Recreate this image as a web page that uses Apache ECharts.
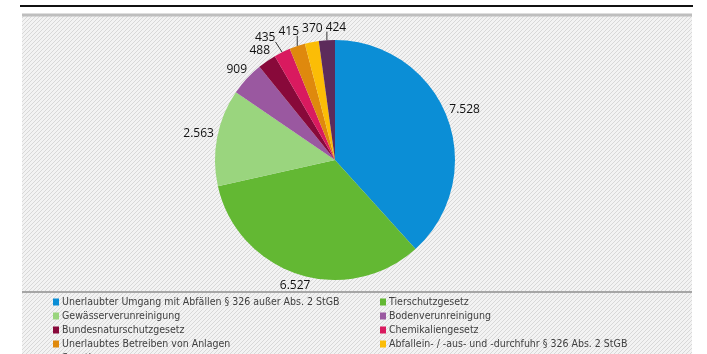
<!DOCTYPE html>
<html>
<head>
<meta charset="utf-8">
<script src="https://cdn.jsdelivr.net/npm/echarts@6/dist/echarts.min.js"></script>
<style>
  html, body { margin: 0; padding: 0; background: #fff; }
  #main { width: 707px; height: 354px; }
</style>
</head>
<body>
<div id="main"></div>
<script>
var categories = [
    'Unerlaubter Umgang mit Abfällen § 326 außer Abs. 2 StGB',
    'Tierschutzgesetz',
    'Gewässerverunreinigung',
    'Bodenverunreinigung',
    'Bundesnaturschutzgesetz',
    'Chemikaliengesetz',
    'Unerlaubtes Betreiben von Anlagen',
    'Abfallein- / -aus- und -durchfuhr § 326 Abs. 2 StGB',
    'Sonstige'
];
var values = [7528, 6527, 2563, 909, 488, 435, 415, 370, 424];
var colors = ['#0B8ED6', '#63B833', '#9AD57E', '#9A58A0', '#88093A', '#D91A5F', '#DF890D', '#FBBD06', '#5C2B5B'];
var withLeader = [5, 6, 8];

var CX = 335, CY = 160, R = 120;

// hatched background like the original
var hatch = document.createElement('canvas');
hatch.width = 4; hatch.height = 4;
var hc = hatch.getContext('2d');
hc.fillStyle = '#F3F3F3';
hc.fillRect(0, 0, 4, 4);
hc.fillStyle = '#D8D8D8';
for (var i = 0; i < 4; i++) hc.fillRect(i, 3 - i, 1, 1);

var pieData = categories.map(function(name, i) {
    var lead = withLeader.indexOf(i) >= 0;
    return {
        name: name,
        value: values[i],
        itemStyle: { color: colors[i] },
        labelLine: { lineStyle: { opacity: lead ? 1 : 0 } }
    };
});

var leftNames = categories.filter(function(c, i) { return i % 2 === 0; });
var rightNames = categories.filter(function(c, i) { return i % 2 === 1; });

var legendBase = {
    orient: 'vertical',
    top: 296,
    height: 120,
    icon: 'rect',
    itemWidth: 6,
    itemHeight: 7,
    itemGap: 2,
    padding: 0,
    textStyle: {
        fontFamily: '"Liberation Sans Narrow", "DejaVu Sans Condensed", sans-serif',
        fontSize: 10.5,
        lineHeight: 12,
        padding: [0, 0, 0, -2],
        color: '#404040'
    }
};

// first pass: radial placement, remembered so crowded labels can be spread afterwards
var placed = [];

function radialLayout(p) {
    var pts = p.labelLinePoints;
    if (!pts) return {};
    var dx = pts[0][0] - CX, dy = pts[0][1] - CY;
    var len = Math.sqrt(dx * dx + dy * dy) || 1;
    dx /= len; dy /= len;
    var w = p.labelRect.width, h = p.labelRect.height - 3;
    var gap = values[p.dataIndex] < 450 ? 8 : 3;
    var half = Math.abs(dx) * w / 2 + Math.abs(dy) * h / 2;
    var d = R + gap + half;
    placed[p.dataIndex] = { x: CX + dx * d, y: CY + dy * d, w: w, h: h, ex: CX + dx * R, ey: CY + dy * R };
    return { x: placed[p.dataIndex].x, y: placed[p.dataIndex].y, align: 'center', verticalAlign: 'middle' };
}

function overlaps(a, b) {
    return Math.abs(a.x - b.x) < (a.w + b.w) / 2 && Math.abs(a.y - b.y) < (a.h + b.h) / 2 - 2;
}

function spreadLabels() {
    var i = 0;
    while (i < placed.length) {
        var j = i;
        while (j + 1 < placed.length && overlaps(placed[j], placed[j + 1])) j++;
        if (j > i) {
            var group = placed.slice(i, j + 1);
            var mean = group.reduce(function(s, g) { return s + g.x; }, 0) / group.length;
            var total = group.reduce(function(s, g) { return s + g.w + 3; }, 0) - 3;
            var x = mean - total / 2;
            group.forEach(function(g) { g.x = x + g.w / 2; x += g.w + 3; });
        }
        i = j + 1;
    }
}

function finalLayout(p) {
    var g = placed[p.dataIndex];
    if (!g) return {};
    var lx = Math.max(g.x - g.w / 2, Math.min(g.ex, g.x + g.w / 2));
    var ly = Math.max(g.y - g.h / 2, Math.min(g.ey, g.y + g.h / 2));
    return {
        x: g.x, y: g.y, align: 'center', verticalAlign: 'middle',
        labelLinePoints: [[g.ex, g.ey], [lx, ly], [lx, ly]]
    };
}

var myChart = echarts.init(document.getElementById('main'));

var option = {
    animation: false,
    backgroundColor: '#fff',
    graphic: [
        { type: 'rect', z: -10, shape: { x: 22, y: 14, width: 670, height: 345 },
          style: { fill: { image: hatch, repeat: 'repeat' } } },
        { type: 'line', z: -5, shape: { x1: 22, y1: 15, x2: 692, y2: 15 },
          style: { stroke: '#BEBEBE', lineWidth: 3 } },
        { type: 'line', z: -5, shape: { x1: 22, y1: 292, x2: 692, y2: 292 },
          style: { stroke: '#A6A6A6', lineWidth: 2 } },
        { type: 'line', z: -5, shape: { x1: 20, y1: 6, x2: 693, y2: 6 },
          style: { stroke: '#111', lineWidth: 2 } }
    ],
    legend: [
        Object.assign({}, legendBase, { left: 52, data: leftNames }),
        Object.assign({}, legendBase, { left: 379, data: rightNames })
    ],
    series: [{
        type: 'pie',
        center: [CX, CY],
        radius: R,
        startAngle: 90,
        clockwise: true,
        avoidLabelOverlap: false,
        label: {
            position: 'outside',
            alignTo: 'none',
            fontFamily: '"Open Sans", sans-serif',
            fontSize: 12,
            color: '#111',
            formatter: function(p) {
                return p.value.toLocaleString('de-DE');
            }
        },
        labelLine: {
            show: true,
            length: 8,
            length2: 0,
            lineStyle: { color: '#333', width: 1 }
        },
        labelLayout: radialLayout,
        itemStyle: { borderColor: 'transparent' },
        emphasis: { disabled: true },
        data: pieData
    }]
};

myChart.setOption(option);
spreadLabels();
myChart.setOption({ series: [{ labelLayout: finalLayout }] });
</script>
</body>
</html>
